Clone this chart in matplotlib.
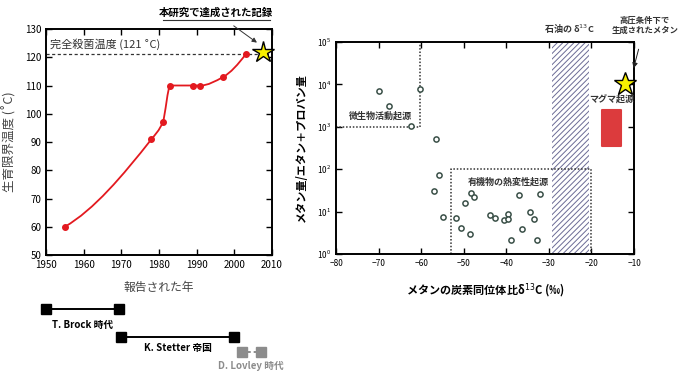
import numpy as np
import matplotlib
matplotlib.use("Agg")
import matplotlib.pyplot as plt
from matplotlib.path import Path
from matplotlib.patches import PathPatch, Rectangle
from matplotlib.ticker import NullLocator, FixedLocator

plt.rcParams['font.family'] = ['Noto Sans CJK JP', 'DejaVu Sans']
plt.rcParams['hatch.linewidth'] = 0.7

# ---------------- data: left panel (growth limit temperature) ----------------
years = [1955, 1978, 1981, 1983, 1989, 1991, 1997, 2003]
temps = [60, 91, 97, 110, 110, 110, 113, 121]
record_year, record_temp = 2007.5, 122
sterile_temp = 121

# timeline eras (start, end)
era_names = ["T. Brock 時代", "K. Stetter 帝国", "D. Lovley 時代"]
era_start = [1950, 1970, 2002]
era_end = [1969.5, 2000, 2007]

# ---------------- data: right panel (methane isotopes) ----------------
d13c = [-69.9, -67.5, -60.3, -62.4, -56.4, -55.8, -56.9, -54.8, -51.8, -50.6,
        -48.5, -49.6, -48.4, -47.6, -43.9, -42.7, -40.5, -39.5, -39.5, -38.8,
        -37.0, -36.3, -34.4, -33.5, -32.7, -32.1]
ratio = [7000, 3100, 7900, 1050, 510, 73, 31, 7.3, 6.9, 4.2,
         2.9, 15.7, 27, 22, 8.3, 7.1, 6.2, 8.7, 6.6, 2.1,
         25, 3.9, 10, 6.7, 2.1, 26]
oil_range = (-29.3, -20.5)
microbial_x, microbial_y = -60.2, 1000
thermo_x0, thermo_x1, thermo_y = -53, -20.2, 100
magma_x = (-17.4, -13.1)
magma_y = (357, 2500)
hp_x, hp_y = -12.2, 10000


def monotone_path(x, y):
    # Fritsch-Carlson tangents, drawn as cubic bezier segments
    x = np.asarray(x, float); y = np.asarray(y, float)
    h = np.diff(x); d = np.diff(y) / h
    n = len(x)
    m = np.zeros(n)
    for k in range(1, n - 1):
        if d[k - 1] * d[k] <= 0:
            m[k] = 0
        else:
            w1 = 2 * h[k] + h[k - 1]; w2 = h[k] + 2 * h[k - 1]
            m[k] = (w1 + w2) / (w1 / d[k - 1] + w2 / d[k])
    m[0] = ((2 * h[0] + h[1]) * d[0] - h[0] * d[1]) / (h[0] + h[1])
    m[-1] = ((2 * h[-1] + h[-2]) * d[-1] - h[-1] * d[-2]) / (h[-1] + h[-2])
    verts = [(x[0], y[0])]; codes = [Path.MOVETO]
    for i in range(n - 1):
        verts += [(x[i] + h[i] / 3, y[i] + m[i] * h[i] / 3),
                  (x[i + 1] - h[i] / 3, y[i + 1] - m[i + 1] * h[i] / 3),
                  (x[i + 1], y[i + 1])]
        codes += [Path.CURVE4] * 3
    return Path(verts, codes)


W, H = 680, 379
fig = plt.figure(figsize=(6.8, 3.79), dpi=100)


def px_axes(x0, y0, x1, y1):
    return fig.add_axes([x0 / W, 1 - y1 / H, (x1 - x0) / W, (y1 - y0) / H])


# ========================== left panel ==========================
ax = px_axes(46, 29, 272, 255)
red = '#e3191f'
ax.add_patch(PathPatch(monotone_path(years, temps), fill=False, edgecolor=red, lw=1.3))
ax.plot(years, temps, 'o', color=red, ms=4, zorder=3)
ax.axhline(sterile_temp, color='#333333', ls=(0, (2.5, 2)), lw=0.9)
ax.text(1951, 124.5, "完全殺菌温度 (121 ˚C)", fontsize=8, color='#333333', va='center')
ax.plot(record_year, record_temp, marker='*', ms=16, mfc='#f7f000', mec='black',
        mew=1, clip_on=False, zorder=5)
ax.annotate("本研究で達成された記録", xy=(2006.6, 124.6), xycoords='data',
            xytext=(216, H - 13), textcoords='figure pixels',
            fontsize=7.5, fontweight='bold', ha='center', va='center',
            arrowprops=dict(arrowstyle='-|>', color='#333333', lw=0.7,
                            shrinkA=6, shrinkB=2, mutation_scale=7))
fig.add_artist(plt.Line2D([163 / W, 270 / W], [1 - 20 / H, 1 - 20 / H],
                          color='#333333', lw=0.8))
ax.set_xlim(1950, 2010)
ax.set_ylim(50, 130)
ax.xaxis.set_major_locator(FixedLocator(range(1950, 2011, 10)))
ax.yaxis.set_major_locator(FixedLocator(range(50, 131, 10)))
ax.tick_params(direction='in', top=True, right=True, labelsize=7, length=4, width=1)
for s in ax.spines.values():
    s.set_linewidth(1.4)
ax.set_xlabel("報告された年", fontsize=8.5, color='#444444', labelpad=8)
ax.set_ylabel("生育限界温度 (˚C)", fontsize=9, color='#444444', labelpad=6)

# timeline
at = fig.add_axes([46 / W, 0, 226 / W, 1 - 295 / H])
at.set_xlim(1950, 2010)
at.set_ylim(379, 295)
at.axis('off')
row_y = [309, 336.7, 352]
label_y = [325, 348, 366]
colors = ['black', 'black', '#8c8c8c']
styles = ['-', '-', (0, (1.5, 1.5))]
for name, s, e, ry, ly, c, st in zip(era_names, era_start, era_end, row_y,
                                      label_y, colors, styles):
    at.plot([s, e], [ry, ry], color=c, lw=1.4, ls=st, clip_on=False)
    at.plot([s, e], [ry, ry], 's', color=c, ms=7, clip_on=False)
    at.text((s + e) / 2, ly, name, fontsize=7, fontweight='bold', color=c,
            ha='center', va='center', clip_on=False)

# ========================== right panel ==========================
ar = px_axes(336, 42, 634, 254)
ar.set_yscale('log')
ar.set_xlim(-80, -10)
ar.set_ylim(1, 1e5)
ar.axvspan(*oil_range, facecolor='white', edgecolor='#6b6b95', hatch='//////', lw=0)
dot = (0, (1, 1.2))
ar.plot([-80, microbial_x, microbial_x], [microbial_y, microbial_y, 1e5],
        color='#333333', ls=dot, lw=1.1)
ar.plot([thermo_x0, thermo_x0, thermo_x1, thermo_x1], [1, thermo_y, thermo_y, 1],
        color='#333333', ls=dot, lw=1.1)
ar.scatter(d13c, ratio, s=14, facecolors='white', edgecolors='#3a5048',
           linewidths=1.1, zorder=3)
ar.add_patch(Rectangle((magma_x[0], magma_y[0]), magma_x[1] - magma_x[0],
                       magma_y[1] - magma_y[0], facecolor='#dc3b3d',
                       edgecolor='#dc3b3d', lw=1.5, joinstyle='round'))
ar.plot(hp_x, hp_y, marker='*', ms=17, mfc='#f7f000', mec='black', mew=1,
        clip_on=False, zorder=5)
lab = dict(fontsize=6.5, ha='center', va='center', color='#333333',
           fontweight='semibold')
ar.text(-69.5, 1800, "微生物活動起源", **lab)
ar.text(-39.5, 49, "有機物の熱変性起源", **lab)
ar.text(-15.3, 4500, "マグマ起源", clip_on=False, **lab)
ar.text(-25.2, 2.0e5, "石油の δ$^{13}$C", clip_on=False, **lab)
ar.annotate("高圧条件下で\n生成されたメタン", xy=(-10.1, 2.4e4), xycoords='data',
            xytext=(645, H - 25), textcoords='figure pixels', fontsize=6,
            fontweight='bold', ha='center', va='center', linespacing=1.1,
            color='#333333',
            arrowprops=dict(arrowstyle='-|>', color='#222222', lw=0.7,
                            shrinkA=9, shrinkB=0, mutation_scale=8))
ar.xaxis.set_major_locator(FixedLocator(range(-80, -9, 10)))
ar.yaxis.set_major_locator(FixedLocator([1, 10, 100, 1e3, 1e4, 1e5]))
ar.yaxis.set_minor_locator(NullLocator())
ar.tick_params(direction='in', top=True, right=True, labelsize=6, length=4, width=1)
for s in ar.spines.values():
    s.set_linewidth(1.4)
ar.set_xlabel("メタンの炭素同位体比δ$^{13}$C (‰)", fontsize=8, fontweight='bold',
              labelpad=10)
ar.set_ylabel("メタン量/エタン＋プロパン量", fontsize=8, fontweight='bold', labelpad=6)

fig.savefig("out.png", dpi=100)
